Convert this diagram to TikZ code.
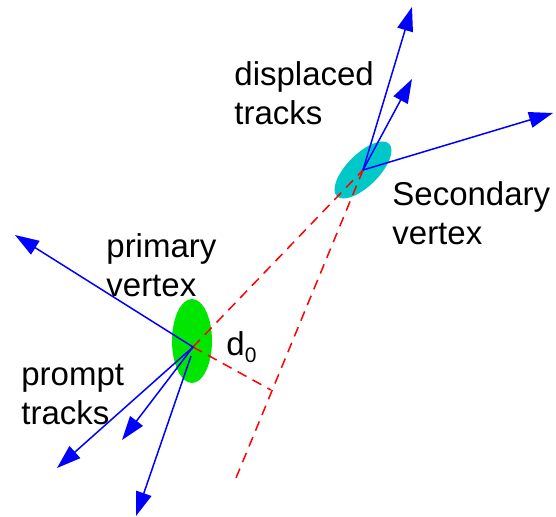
\documentclass[tikz,border=0pt]{standalone}
\usepackage{fontspec}
\setmainfont{Liberation Sans}
\usetikzlibrary{arrows.meta,shapes.geometric}
\definecolor{trackcol}{RGB}{0,0,255}
\definecolor{flightcol}{RGB}{255,0,0}
\definecolor{pvfill}{RGB}{0,230,0}
\definecolor{svfill}{RGB}{0,200,200}

\begin{document}
\begin{tikzpicture}[x=0.5pt,y=-0.5pt,>={Triangle[length=12pt,width=8pt]}]
 \tikzstyle{track}=[->,draw=trackcol,fill=trackcol,line width=0.75pt]
 \tikzstyle{flight}=[draw=flightcol,line width=0.75pt,dash pattern=on 5pt off 3.5pt]
 \tikzstyle{blob}=[ellipse,draw=none,inner sep=0pt]
 \tikzstyle{lbl}=[inner sep=0pt,anchor=base west,align=left,font=\fontsize{16.5}{19.5}\selectfont]
 \useasboundingbox (0,0) rectangle (556,517);
 \node[blob,fill=pvfill,minimum width=20pt,minimum height=42pt] (pvblob) at (192,341) {};
 \node[blob,fill=svfill,minimum width=37pt,minimum height=16pt,rotate=45] (svblob) at (363,170) {};
 \coordinate (pv) at (193,347);
 \coordinate (pvb) at (191,356);
 \coordinate (sv) at (363,170);
 \coordinate (foot) at (271,390);
 \coordinate (fend) at (236,478);
 \coordinate (p1) at (15,235);
 \coordinate (p2) at (57,468);
 \coordinate (p3) at (122,440);
 \coordinate (p4) at (136,516);
 \coordinate (s1) at (412,7);
 \coordinate (s2) at (412,79);
 \coordinate (s3) at (553,113);
 \draw[flight] (pv) -- (sv);
 \draw[flight] (sv) -- (fend);
 \draw[flight] (pv) -- (foot);
 \draw[track] (pv) -- (p1);
 \draw[track] (pv) -- (p2);
 \draw[track] (pv) -- (p3);
 \draw[track] (pvb) -- (p4);
 \draw[track] (sv) -- (s1);
 \draw[track] (sv) -- (s2);
 \draw[track] (sv) -- (s3);
 \node[lbl] (dtlbl) at (234,125) {displaced\\tracks};
 \node[lbl] (svlbl) at (392,245) {Secondary\\vertex};
 \node[lbl] (pvlbl) at (106,297) {primary\\vertex};
 \node[lbl] (ptlbl) at (21,424) {prompt\\tracks};
 \node[lbl] (dlbl) at (226,356) {d\raisebox{-3.5pt}{\fontsize{10.5}{12}\selectfont 0}};
\end{tikzpicture}
\end{document}
